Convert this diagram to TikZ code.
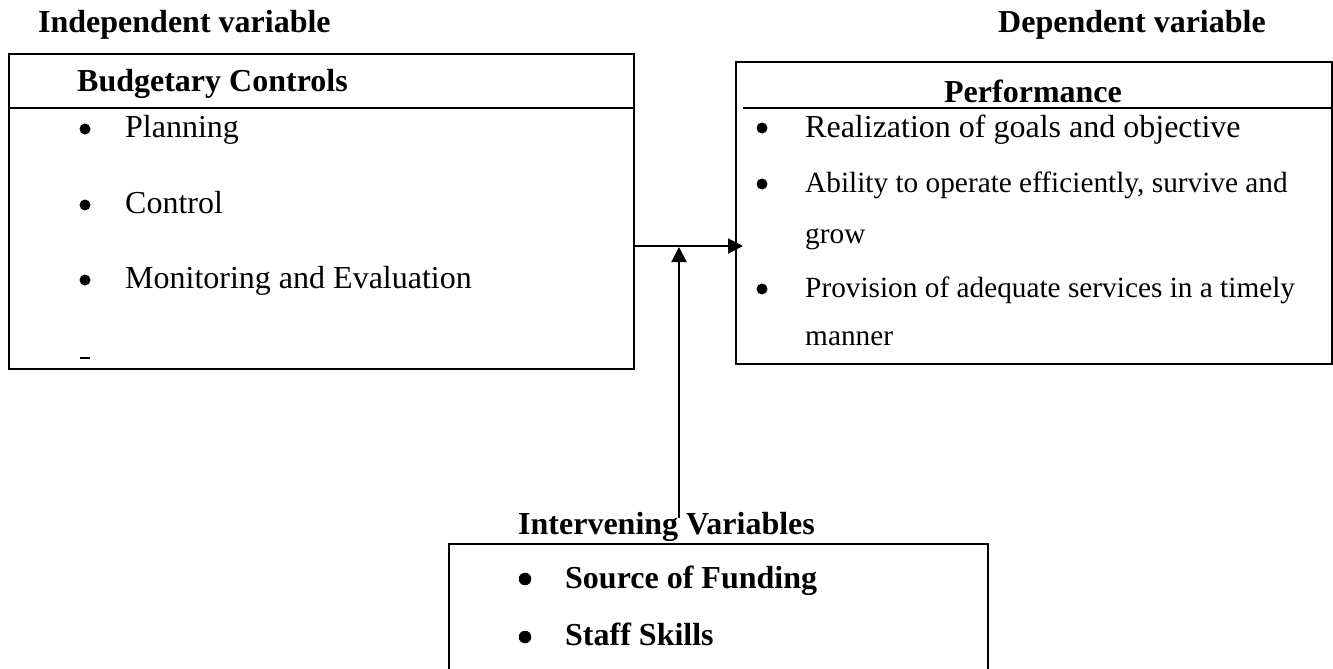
\documentclass[tikz,border=0pt]{standalone}
\usepackage{fontspec}
\setmainfont{Liberation Serif}
\usetikzlibrary{arrows.meta}
\tikzset{
  boxline/.style={line width=2pt},
  sepline/.style={line width=1.6pt},
  txt/.style={inner sep=0pt, anchor=base west, font=\fontsize{32}{38}\selectfont},
  stxt/.style={inner sep=0pt, anchor=base west, font=\fontsize{29.3}{35}\selectfont},
  btxt/.style={inner sep=0pt, anchor=base west, font=\fontsize{32}{38}\selectfont\bfseries},
  dot/.style={circle, fill, inner sep=0pt, minimum size=11pt},
  bdot/.style={circle, fill, inner sep=0pt, minimum size=12.5pt},
  arr/.style={line width=2pt, -{Triangle[length=15pt,width=15pt]}}
}
\begin{document}
\begin{tikzpicture}[x=1pt,y=-1pt]
\useasboundingbox (0,0) rectangle (1333,669);
% headings
\node[btxt] (indep) at (38,33) {Independent variable};
\node[btxt] (dep) at (998,33) {Dependent variable};
% left box
\node[boxline, draw, inner sep=0pt, anchor=north west, minimum width=625pt, minimum height=315pt] (left) at (8,53) {};
\draw[sepline] (8,108) -- (633,108);
\node[btxt] (bc) at (77,92) {Budgetary Controls};
\node[dot] (b1) at (85,129) {};
\node[txt] (t1) at (125,137) {Planning};
\node[dot] (b2) at (85,205) {};
\node[txt] (t2) at (125,213) {Control};
\node[dot] (b3) at (85,280) {};
\node[txt] (t3) at (125,288) {Monitoring and Evaluation};
\draw[line width=1.8pt] (80,358) -- (90,358);
% right box
\node[boxline, draw, inner sep=0pt, anchor=north west, minimum width=596pt, minimum height=302pt] (right) at (735,61) {};
\draw[sepline] (743,108) -- (1331,108);
\node[btxt, anchor=base] (perf) at (1033,102) {Performance};
\node[dot] (r1) at (762,128) {};
\node[txt] (p1) at (805,137) {Realization of goals and objective};
\node[dot] (r2) at (762,184) {};
\node[stxt] (p2) at (805,192) {Ability to operate efficiently, survive and};
\node[stxt] (p2b) at (805,243) {grow};
\node[dot] (r3) at (762,289) {};
\node[stxt] (p3) at (805,297) {Provision of adequate services in a timely};
\node[stxt] (p3b) at (805,345) {manner};
% bottom box (open at the bottom)
\coordinate (bl) at (449,669);
\coordinate (tl) at (449,544);
\coordinate (tr) at (988,544);
\coordinate (br) at (988,669);
\draw[boxline] (bl) -- (tl) -- (tr) -- (br);
\node[btxt] (iv) at (518,534) {Intervening Variables};
\node[bdot] (s1) at (525,579) {};
\node[btxt] (v1) at (565,588) {Source of Funding};
\node[bdot] (s2) at (525,637) {};
\node[btxt] (v2) at (565,645) {Staff Skills};
% connectors
\coordinate (hstart) at (633,246);
\coordinate (htip) at (743,246);
\coordinate (vbot) at (679,518);
\coordinate (vtop) at (679,247);
\draw[arr] (hstart) -- (htip);
\draw[arr] (vbot) -- (vtop);
\end{tikzpicture}
\end{document}
